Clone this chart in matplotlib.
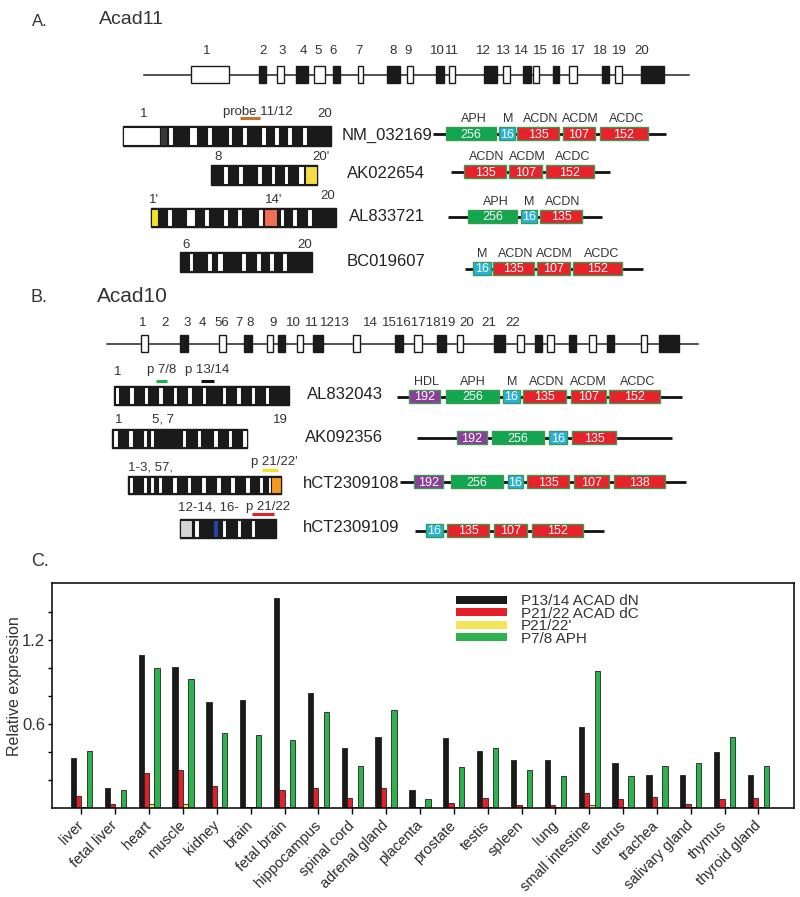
import numpy as np
import matplotlib
matplotlib.use("Agg")
import matplotlib.pyplot as plt
from matplotlib.patches import Rectangle

plt.rcParams['font.family'] = ['Liberation Sans', 'DejaVu Sans']

# ---------------- panel C data ----------------
tissues = ["liver", "fetal liver", "heart", "muscle", "kidney", "brain", "fetal brain",
           "hippocampus", "spinal cord", "adrenal gland", "placenta", "prostate", "testis",
           "spleen", "lung", "small intestine", "uterus", "trachea", "salivary gland",
           "thymus", "thyroid gland"]
p1314_dN = [0.36, 0.143, 1.09, 1.01, 0.755, 0.77, 1.50, 0.82, 0.43, 0.51, 0.13,
            0.50, 0.41, 0.343, 0.343, 0.58, 0.324, 0.238, 0.238, 0.40, 0.238]
p2122_dC = [0.083, 0.03, 0.25, 0.27, 0.16, 0.01, 0.126, 0.143, 0.07, 0.143, 0.01,
            0.036, 0.07, 0.02, 0.02, 0.107, 0.064, 0.08, 0.029, 0.062, 0.07]
p2122_prime = [0.005, 0.0, 0.03, 0.03, 0.005, 0.005, 0.005, 0.005, 0.005, 0.005, 0.005,
               0.005, 0.005, 0.005, 0.005, 0.02, 0.005, 0.005, 0.005, 0.005, 0.005]
p78_aph = [0.41, 0.126, 1.0, 0.92, 0.536, 0.52, 0.488, 0.683, 0.30, 0.70, 0.064,
           0.29, 0.43, 0.27, 0.23, 0.98, 0.23, 0.30, 0.32, 0.51, 0.30]
series_names = ["P13/14 ACAD dN", "P21/22 ACAD dC", "P21/22'", "P7/8 APH"]
series_colors = ["#1a1a1a", "#e3202a", "#f3e65a", "#2db34e"]

# ---------------- panel A/B data (schematic units = pixels) ----------------
# exons: (start, end, filled)
acad11_exons = [(191, 229, 0), (259, 266, 1), (277, 284, 0), (296, 308, 1), (314, 325, 0),
                (333, 340, 1), (358, 363, 0), (387, 400, 1), (407, 413, 0), (436, 444, 1),
                (449, 455, 0), (484, 497, 1), (503, 510, 0), (523, 531, 1), (533, 539, 0),
                (553, 559, 1), (569, 577, 0), (602, 609, 1), (615, 622, 0), (641, 664, 1)]
acad11_exon_labels = [("1", 207), ("2", 263), ("3", 282), ("4", 303), ("5", 318), ("6", 333),
                      ("7", 359), ("8", 393), ("9", 408), ("10", 437), ("11", 452), ("12", 483),
                      ("13", 503), ("14", 521), ("15", 540), ("16", 558), ("17", 578),
                      ("18", 600), ("19", 619), ("20", 642)]
acad10_exons = [(141, 148, 0), (180, 188, 1), (219, 226, 0), (244, 252, 1), (267, 273, 0),
                (278, 285, 1), (297, 303, 0), (313, 323, 1), (353, 360, 0), (395, 403, 1),
                (414, 422, 0), (437, 446, 1), (457, 463, 0), (494, 505, 1), (517, 524, 0),
                (535, 542, 1), (547, 554, 0), (569, 576, 1), (589, 596, 0), (607, 614, 1),
                (641, 647, 0), (659, 679, 1)]
acad10_exon_labels = [("1", 143), ("2", 165), ("3", 187), ("4", 202), ("56", 222), ("7", 239),
                      ("8", 250), ("9", 273), ("10", 293), ("11", 312), ("1213", 335),
                      ("14", 370), ("1516171819", 419), ("20", 467), ("21", 489), ("22", 513)]

# transcripts: name, (x0, x1), (y0, y1), inserts [(x0, x1, colour)]
transcripts = [
    ("NM_032169", (123, 331), (126, 146),
     [(123, 160, "white"), (160, 167, "#3a3a3a"), (168, 173, "white"), (189, 197, "white"),
      (207, 212, "white"), (228, 232, "white"), (242, 247, "white"), (261, 266, "white"),
      (274, 279, "white"), (287, 292, "white"), (302, 307, "white")]),
    ("AK022654", (211, 317), (165, 185),
     [(223, 228, "white"), (238, 243, "white"), (257, 262, "white"), (271, 275, "white"),
      (284, 288, "white"), (298, 304, "white"), (305, 317, "#f5dc45")]),
    ("AL833721", (151, 336), (208, 227),
     [(151, 158, "#f2e22a"), (167, 172, "white"), (186, 195, "white"), (204, 209, "white"),
      (223, 228, "white"), (237, 242, "white"), (258, 263, "white"), (264, 277, "#ee7055"),
      (280, 284, "white"), (292, 297, "white"), (307, 312, "white")]),
    ("BC019607", (180, 312), (252, 272),
     [(189, 193, "white"), (207, 212, "white"), (217, 223, "white"), (241, 246, "white"),
      (256, 261, "white"), (269, 274, "white"), (282, 287, "white")]),
    ("AL832043", (114, 289), (386, 405),
     [(115, 119, "white"), (129, 134, "white"), (144, 148, "white"), (158, 163, "white"),
      (173, 177, "white"), (187, 192, "white"), (202, 206, "white"), (222, 226, "white"),
      (236, 241, "white"), (251, 255, "white"), (265, 269, "white")]),
    ("AK092356", (112, 247), (429, 448),
     [(113, 118, "white"), (128, 133, "white"), (143, 147, "white"), (150, 154, "white"),
      (165, 179, "#1a1a1a"), (182, 186, "white"), (197, 201, "white"), (213, 218, "white"),
      (228, 232, "white"), (242, 247, "white")]),
    ("hCT2309108", (128, 281), (476, 494),
     [(129, 133, "white"), (143, 147, "white"), (150, 154, "white"), (158, 162, "white"),
      (172, 177, "white"), (187, 191, "white"), (201, 206, "white"), (216, 221, "white"),
      (230, 235, "white"), (245, 250, "white"), (259, 263, "white"), (268, 271, "white"),
      (271, 281, "#f39a1e")]),
    ("hCT2309109", (180, 276), (519, 538),
     [(180, 192, "#d4d4d4"), (194, 199, "white"), (213, 218, "#2145a8"), (222, 226, "white"),
      (237, 241, "white"), (251, 255, "white")]),
]
transcript_name_x = [342, 347, 349, 347, 307, 305, 303, 303]

# small labels above transcripts: (text, x, y)
transcript_labels = [("1", 144, 114), ("probe 11/12", 258, 112), ("20", 325, 114),
                     ("8", 218, 157), ("20'", 321, 157),
                     ("1'", 154, 200), ("14'", 274, 200), ("20", 328, 196),
                     ("6", 186, 245), ("20", 305, 245),
                     ("1", 118, 372), ("p 7/8", 162, 370), ("p 13/14", 207, 370),
                     ("1", 119, 420), ("5, 7", 163, 420), ("19", 280, 420),
                     ("1-3, 57,", 150, 467), ("p 21/22'", 274, 462),
                     ("12-14, 16-", 208, 507), ("p 21/22", 268, 507)]
# probe bars: (x0, x1, y, colour)
probe_bars = [(240, 260, 118, "#c8702a"), (156, 167, 381, "#1db34a"), (201, 214, 381, "#111111"),
              (262, 278, 470, "#f0e620"), (252, 274, 514, "#e3202a")]

# proteins: line (x0, x1, y), domains [(x0, x1, number, colour)], names [(text, x)]
GRN, CYN, RED, PUR = "#12a650", "#27b2dc", "#e8222a", "#8a3f98"
proteins = [
    ((433, 666, 134), [(446, 496, "256", GRN), (499, 515, "16", CYN), (517, 559, "135", RED),
                       (563, 595, "107", RED), (600, 648, "152", RED)],
     [("APH", 474), ("M", 508), ("ACDN", 541), ("ACDM", 580), ("ACDC", 627)]),
    ((451, 610, 172), [(464, 506, "135", RED), (509, 542, "107", RED), (546, 594, "152", RED)],
     [("ACDN", 487), ("ACDM", 527), ("ACDC", 573)]),
    ((448, 602, 217), [(468, 517, "256", GRN), (521, 537, "16", CYN), (540, 582, "135", RED)],
     [("APH", 496), ("M", 529), ("ACDN", 563)]),
    ((465, 643, 269), [(473, 491, "16", CYN), (493, 534, "135", RED), (537, 570, "107", RED),
                       (573, 622, "152", RED)],
     [("M", 482), ("ACDN", 516), ("ACDM", 554), ("ACDC", 602)]),
    ((397, 682, 397), [(409, 440, "192", PUR), (446, 499, "256", GRN), (503, 520, "16", CYN),
                       (523, 566, "135", RED), (571, 606, "107", RED), (609, 660, "152", RED)],
     [("HDL", 426), ("APH", 473), ("M", 512), ("ACDN", 547), ("ACDM", 588), ("ACDC", 638)]),
    ((417, 672, 438), [(457, 487, "192", PUR), (492, 544, "256", GRN), (549, 567, "16", CYN),
                       (572, 616, "135", RED)], []),
    ((400, 686, 482), [(414, 443, "192", PUR), (451, 503, "256", GRN), (508, 523, "16", CYN),
                       (527, 569, "135", RED), (574, 609, "107", RED), (614, 665, "138", RED)], []),
    ((415, 604, 531), [(426, 443, "16", CYN), (447, 489, "135", RED), (494, 527, "107", RED),
                       (532, 583, "152", RED)], []),
]

TXT = "#333333"


def draw_gene(ax, y, x0, x1, exons, labels, ly):
    ax.plot([x0, x1], [y, y], color="#222222", lw=1.1, zorder=1)
    for s, e, filled in exons:
        ax.add_patch(Rectangle((s, y - 8.5), e - s, 17, fc="#1a1a1a" if filled else "white",
                               ec="#1a1a1a", lw=1.0, zorder=2))
    for t, x in labels:
        ax.text(x, ly, t, ha="center", va="center", fontsize=9.5, color=TXT)


def draw_transcript(ax, xr, yr, inserts):
    x0, x1 = xr
    y0, y1 = yr
    ax.add_patch(Rectangle((x0, y0), x1 - x0, y1 - y0, fc="#1a1a1a", ec="#1a1a1a", lw=1.0, zorder=2))
    for s, e, c in inserts:
        ax.add_patch(Rectangle((s, y0 + 0.8), e - s, y1 - y0 - 1.6, fc=c, ec="#1a1a1a",
                               lw=0.8, zorder=3))


def draw_protein(ax, line, domains, names):
    x0, x1, y = line
    ax.plot([x0, x1], [y, y], color="#111111", lw=2.0, zorder=1, solid_capstyle="butt")
    for s, e, num, c in domains:
        ax.add_patch(Rectangle((s, y - 6.5), e - s, 13, fc=c, ec="#3c9a50", lw=1.0, zorder=2))
        ax.text((s + e) / 2, y + 0.5, num, ha="center", va="center", fontsize=9,
                color="white", zorder=3)
    for t, x in names:
        ax.text(x, y - 15, t, ha="center", va="center", fontsize=9, color=TXT)


fig = plt.figure(figsize=(8, 8.97), dpi=100)
ax = fig.add_axes([0, 0, 1, 1])
ax.set_xlim(0, 800)
ax.set_ylim(897, 0)
ax.axis("off")

# panel headings
ax.text(32, 22, "A.", fontsize=12, va="center", color=TXT)
ax.text(99, 20, "Acad11", fontsize=14, va="center", color=TXT)
ax.text(31, 297, "B.", fontsize=13, va="center", color=TXT)
ax.text(97, 297, "Acad10", fontsize=15, va="center", color=TXT)
ax.text(31, 562, "C.", fontsize=13, va="center", color=TXT)

draw_gene(ax, 75, 144, 689, acad11_exons, acad11_exon_labels, 51)
draw_gene(ax, 344, 107, 698, acad10_exons, acad10_exon_labels, 323)

for (name, xr, yr, inserts), nx in zip(transcripts, transcript_name_x):
    draw_transcript(ax, xr, yr, inserts)
    ax.text(nx, (yr[0] + yr[1]) / 2 - 1, name, fontsize=12, va="center", color="#222222",
            zorder=4)

for t, x, y in transcript_labels:
    ax.text(x, y, t, ha="center", va="center", fontsize=9.5, color=TXT)
for s, e, y, c in probe_bars:
    ax.plot([s, e], [y, y], color=c, lw=2.2, solid_capstyle="butt")

for line, domains, names in proteins:
    draw_protein(ax, line, domains, names)

# ---------------- panel C: bar chart ----------------
axc = fig.add_axes([52 / 800, (897 - 808) / 897, 742 / 800, 225 / 897])
x = np.arange(len(tissues))
w = 0.157
all_series = [p1314_dN, p2122_dC, p2122_prime, p78_aph]
for k, (vals, lab, col) in enumerate(zip(all_series, series_names, series_colors)):
    axc.bar(x + (k - 1.5) * w, vals, width=w, color=col, edgecolor="#222222",
            linewidth=0.6, label=lab)

axc.set_xlim(-0.87, 21.05)
axc.set_ylim(0, 1.607)
axc.set_yticks([0.2, 0.4, 0.6, 0.8, 1.0, 1.2, 1.4])
axc.set_yticklabels(["", "", "0.6", "", "", "1.2", ""], fontsize=12, color=TXT)
axc.set_xticks(x)
axc.set_xticklabels(tissues, rotation=45, ha="right", va="center", rotation_mode="anchor",
                    fontsize=10.5, color="#2a2a2a")
axc.tick_params(axis="x", direction="out", length=4, width=1, pad=7)
axc.tick_params(axis="y", direction="out", length=3, width=1, pad=2)
for sp in axc.spines.values():
    sp.set_linewidth(1.1)
axc.set_ylabel("Relative expression", fontsize=11.5, color=TXT)
axc.yaxis.set_label_coords(-0.04, 0.54)

leg = axc.legend(loc="upper left", bbox_to_anchor=(0.545, 0.95), frameon=False,
                 fontsize=11, handlelength=3.3, handleheight=0.45, handletextpad=0.9,
                 labelspacing=-0.1, borderpad=0, borderaxespad=0)
for h in leg.legend_handles:
    h.set_edgecolor("none")
for t in leg.get_texts():
    t.set_color(TXT)

fig.savefig("out.png", dpi=100)
